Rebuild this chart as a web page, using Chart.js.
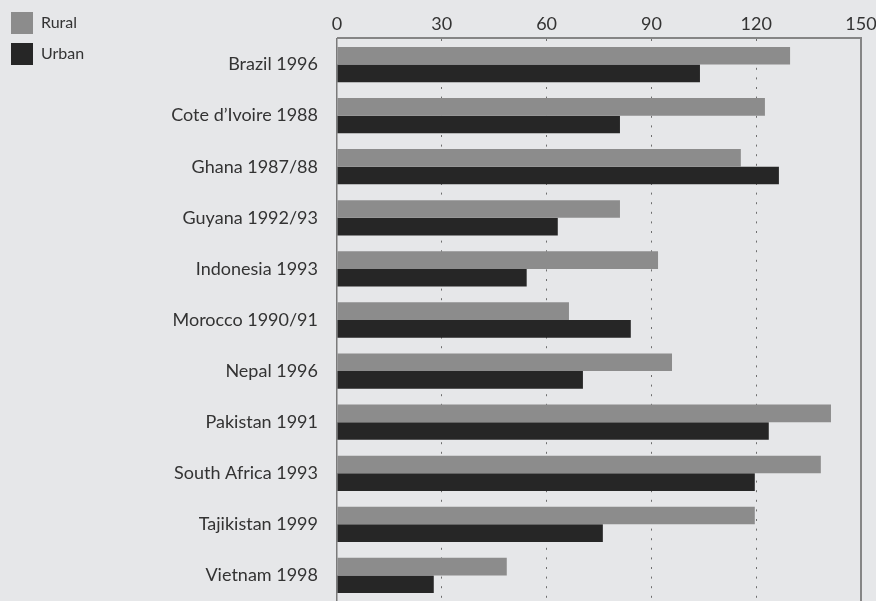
<!DOCTYPE html>
<html>
<head>
<meta charset="utf-8">
<script src="https://cdn.jsdelivr.net/npm/chart.js@4/dist/chart.umd.min.js"></script>
<style>
  html, body { margin: 0; padding: 0; background: #e6e7e9; overflow: hidden; }
  #wrap { width: 876px; height: 601px; }
</style>
</head>
<body>
<div id="wrap"><canvas id="c" width="876" height="601"></canvas></div>
<script>
const categories = ["Brazil 1996", "Cote d\u2019Ivoire 1988", "Ghana 1987/88", "Guyana 1992/93", "Indonesia 1993", "Morocco 1990/91", "Nepal 1996", "Pakistan 1991", "South Africa 1993", "Tajikistan 1999", "Vietnam 1998"];
const rural = [129.7, 122.5, 115.6, 81.0, 91.9, 66.4, 95.9, 141.4, 138.5, 119.6, 48.6];
const urban = [103.9, 81.0, 126.5, 63.2, 54.3, 84.1, 70.4, 123.6, 119.6, 76.1, 27.7];
const xTicks = [0, 30, 60, 90, 120, 150];

const FONT = "Lato, 'Open Sans', sans-serif";

const framePlugin = {
  id: 'plotFrame',
  afterDatasetsDraw(chart) {
    const ctx = chart.ctx;
    const a = chart.chartArea;
    ctx.save();
    ctx.setLineDash([]);
    ctx.strokeStyle = '#858585';
    ctx.lineWidth = 2;
    ctx.beginPath();
    ctx.moveTo(a.left, a.top - 1);
    ctx.lineTo(a.right + 1, a.top - 1);
    ctx.moveTo(a.right, a.top - 2);
    ctx.lineTo(a.right, a.bottom);
    ctx.stroke();
    ctx.restore();
  }
};

new Chart(document.getElementById('c'), {
  type: 'bar',
  data: {
    labels: categories,
    datasets: [
      { label: 'Rural', data: rural, backgroundColor: '#8c8c8c', borderWidth: 0 },
      { label: 'Urban', data: urban, backgroundColor: '#262626', borderWidth: 0 }
    ]
  },
  plugins: [framePlugin],
  options: {
    indexAxis: 'y',
    responsive: false,
    animation: false,
    devicePixelRatio: 1,
    layout: { padding: { top: 3, left: 2, right: 15, bottom: 0 } },
    datasets: { bar: { categoryPercentage: 0.69, barPercentage: 1.0 } },
    plugins: {
      legend: {
        position: 'left',
        align: 'start',
        labels: {
          boxWidth: 22, boxHeight: 22, padding: 9,
          color: '#333333',
          font: { family: FONT, size: 16 }
        }
      },
      tooltip: { enabled: false }
    },
    scales: {
      x: {
        position: 'top',
        min: 0, max: 150,
        afterBuildTicks: (s) => { s.ticks = xTicks.map(v => ({ value: v })); },
        afterFit: (s) => { s.height = 36; s.paddingLeft = 0; s.paddingRight = 0; },
        ticks: { color: '#333333', font: { family: FONT, size: 18 }, padding: 4, maxRotation: 0 },
        grid: {
          drawTicks: false,
          lineWidth: 1,
          color: (ctx) => (ctx.tick && (ctx.tick.value === 0 || ctx.tick.value === 150)) ? 'rgba(0,0,0,0)' : '#6e6e6e'
        },
        border: { display: false, dash: [2, 7.6] }
      },
      y: {
        position: 'left',
        afterFit: (s) => {
          const lg = s.chart.legend;
          const lw = lg && lg.width ? lg.width : 0;
          s.width = 337 - 2 - lw;
          s.paddingTop = 0; s.paddingBottom = 0;
        },
        ticks: { color: '#333333', font: { family: FONT, size: 18 }, padding: 19 },
        grid: { display: false, drawTicks: false },
        border: { display: true, color: '#7a7a7a', width: 1.5 }
      }
    }
  }
});
</script>
</body>
</html>
